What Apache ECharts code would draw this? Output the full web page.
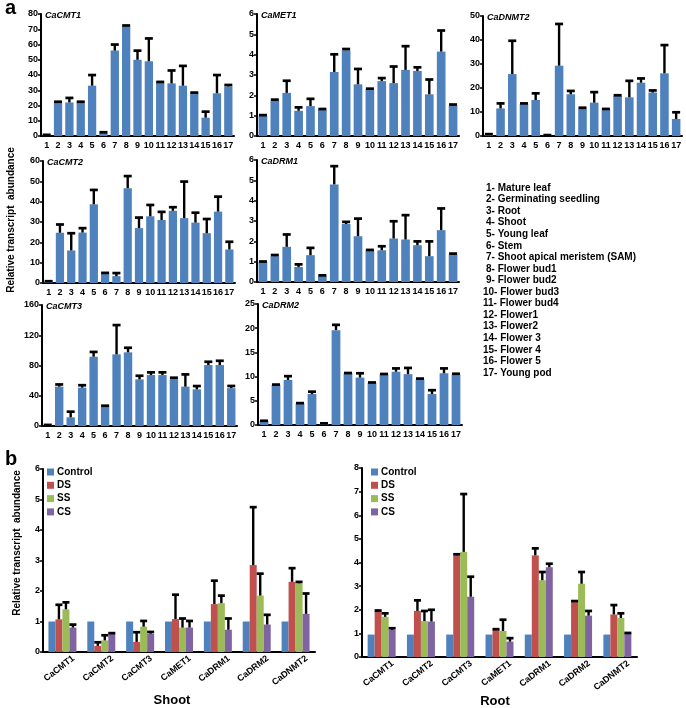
<!DOCTYPE html>
<html><head><meta charset="utf-8">
<script src="https://cdn.jsdelivr.net/npm/echarts@6/dist/echarts.min.js"></script>
<style>html,body{margin:0;padding:0;background:#fff}#main{width:686px;height:708px}</style>
</head><body><div id="main"></div>
<script>
// ---------- DATA ----------
const tissues = ['1','2','3','4','5','6','7','8','9','10','11','12','13','14','15','16','17'];
const tissueNames = ['1- Mature leaf','2- Germinating seedling','3- Root','4- Shoot','5- Young leaf','6- Stem',
  '7- Shoot apical meristem (SAM)','8- Flower bud1','9- Flower bud2','10- Flower bud3','11- Flower bud4',
  '12- Flower1','13- Flower2','14- Flower 3','15- Flower 4','16- Flower 5','17- Young pod'];

const cmt1    = [0.5,22,22,22,33,2,56,72,50,49,35,34.5,33,28,12,28,32.5];
const cmt1Err = [0.3,0.5,3,0.5,7,0.5,4,0.5,6,15,0.5,8.5,13,0.5,4,12,1];
const met1    = [1.0,1.73,2.12,1.24,1.47,1.3,3.15,4.22,2.54,2.3,2.7,2.6,3.25,3.2,2.05,4.15,1.5];
const met1Err = [0.03,0.06,0.6,0.17,0.36,0.03,0.87,0.06,0.76,0.03,0.15,0.82,1.17,0.18,0.73,1.04,0.05];
const dnmt2    = [0.5,11.5,25.8,13.3,15,0.2,29.3,17.4,11.4,13.9,11.1,16.7,16.1,22.2,18.1,26.1,7.1];
const dnmt2Err = [0.3,2.1,13.9,0.3,2.8,0.2,17.4,1.4,0.4,4.4,0.2,0.3,6.9,1.8,0.9,11.8,2.8];
const cmt2    = [0.7,24.7,16,24.8,38.7,4.7,3.4,46.6,27,32.8,31,35.5,31.9,29.7,24.5,35.1,16.5];
const cmt2Err = [0.2,4.1,8.5,2.2,7.1,0.3,1.5,6,5.2,5.6,4,1.8,18,4.9,7,7.4,3.8];
const drm1    = [0.99,1.27,1.73,0.74,1.32,0.31,4.8,2.85,2.25,1.56,1.56,2.14,2.09,1.81,1.27,2.55,1.35];
const drm1Err = [0.02,0.06,0.61,0.13,0.36,0.02,0.9,0.11,0.87,0.02,0.2,0.85,1.2,0.19,0.73,1.07,0.05];
const cmt3    = [1,52,11.5,50.7,91.6,26.4,94.7,97.4,61.7,67.4,67.4,62,52,48.5,80.6,80.6,50];
const cmt3Err = [0.5,3,7.5,3.3,6.4,0.5,38.8,6.1,4.8,3.6,3.6,1.9,16.3,4.4,4.4,5.7,3];
const drm2    = [0.83,8.26,9.3,4.48,6.4,0.2,19.6,10.7,9.8,8.75,10.5,11,10.5,9.4,6.4,10.7,10.4];
const drm2Err = [0.05,0.1,0.8,0.05,0.5,0.15,1.1,0.05,0.9,0.05,0.05,0.7,1.3,0.2,0.8,1.0,0.2];

const genes = ['CaCMT1','CaCMT2','CaCMT3','CaMET1','CaDRM1','CaDRM2','CaDNMT2'];
const treatments = ['Control','DS','SS','CS'];
const shootControl = [1,1,1,1,1,1,1];
const shootControlErr = [0,0,0,0,0,0,0];
const shootDS = [1.07,0.2,0.33,1.08,1.57,2.85,2.3];
const shootDSErr = [0.48,0.12,0.32,0.8,0.77,1.9,0.45];
const shootSS = [1.4,0.38,0.83,0.8,1.6,1.85,2.25];
const shootSSErr = [0.23,0.17,0.19,0.3,0.25,0.72,0.05];
const shootCS = [0.8,0.6,0.6,0.8,0.73,0.9,1.25];
const shootCSErr = [0.1,0.02,0.06,0.22,0.37,0.32,0.67];
const rootControl = [0.95,0.95,0.95,0.95,0.95,0.95,0.95];
const rootControlErr = [0,0,0,0,0,0,0];
const rootDS = [1.95,1.95,4.3,1.15,4.3,2.35,1.8];
const rootDSErr = [0.02,0.45,0.05,0.03,0.3,0.02,0.4];
const rootSS = [1.7,1.52,4.45,1.1,3.25,3.1,1.65];
const rootSSErr = [0.15,0.43,2.45,0.48,0.35,0.5,0.2];
const rootCS = [1.15,1.5,2.55,0.65,3.8,1.75,1.0];
const rootCSErr = [0.07,0.5,0.85,0.15,0.15,0.2,0.02];

// ---------- STYLE ----------
const FONT = 'Arial, "Liberation Sans", sans-serif';
const BLUE = '#4F81BD';
const tColors = ['#4F81BD','#C0504D','#9BBB59','#8064A2'];

const grids = [], xAxes = [], yAxes = [], series = [], graphics = [];

function errSeries(gi, vals, errs, offset, capW) {
  return {
    type: 'custom', xAxisIndex: gi, yAxisIndex: gi, z: 5, silent: true,
    data: vals.map((v, i) => [i, v, errs[i]]),
    encode: { x: 0, y: 1 },
    renderItem: function (params, api) {
      const i = api.value(0), v = api.value(1), e = api.value(2);
      if (!e) return null;
      const p0 = api.coord([i, v]);
      const p1 = api.coord([i, v + e]);
      const x = p0[0] + offset;
      return { type: 'group', children: [
        { type: 'line', shape: { x1: x, y1: p0[1], x2: x, y2: p1[1] }, style: { stroke: '#000', lineWidth: 2.4 } },
        { type: 'rect', shape: { x: x - capW / 2, y: p1[1] - 1.3, width: capW, height: 2.7 }, style: { fill: '#000' } }
      ]};
    }
  };
}

function axisY(gi, max, interval, labelSize) {
  return {
    type: 'value', gridIndex: gi, min: 0, max: max, interval: interval,
    axisLine: { show: true, lineStyle: { color: '#000', width: 2 } },
    axisTick: { show: true, length: 3, lineStyle: { color: '#000', width: 1.5 } },
    axisLabel: { color: '#000', fontFamily: FONT, fontWeight: 'bold', fontSize: labelSize, margin: 3 },
    splitLine: { show: false }
  };
}

function panelA(left, top, width, height, title, vals, errs, max, interval) {
  const gi = grids.length;
  grids.push({ left: left, top: top, width: width, height: height });
  xAxes.push({
    type: 'category', gridIndex: gi, data: tissues,
    axisLine: { lineStyle: { color: '#000', width: 2 } },
    axisTick: { show: false },
    axisLabel: { interval: 0, color: '#000', fontFamily: FONT, fontWeight: 'bold', fontSize: 9, margin: 5 }
  });
  yAxes.push(axisY(gi, max, interval, 9));
  series.push({ type: 'bar', xAxisIndex: gi, yAxisIndex: gi, data: vals, barCategoryGap: '27%',
    itemStyle: { color: BLUE }, silent: true });
  series.push(errSeries(gi, vals, errs, 0, 8));
  graphics.push({ type: 'text', left: left + 4, top: top - 3,
    style: { text: title, font: 'italic bold 9px ' + FONT, fill: '#000' } });
}

panelA(41, 14, 193, 122, 'CaCMT1', cmt1, cmt1Err, 80, 10);
panelA(257, 14, 202, 122, 'CaMET1', met1, met1Err, 6, 1);
panelA(483, 16, 199, 120, 'CaDNMT2', dnmt2, dnmt2Err, 50, 10);
panelA(43, 161, 192, 122, 'CaCMT2', cmt2, cmt2Err, 60, 10);
panelA(257, 160, 202, 122, 'CaDRM1', drm1, drm1Err, 6, 1);
panelA(42, 305, 195, 121, 'CaCMT3', cmt3, cmt3Err, 160, 40);
panelA(258, 304, 204, 121, 'CaDRM2', drm2, drm2Err, 25, 5);

function panelB(left, top, width, height, max, valsList, errsList) {
  const gi = grids.length;
  grids.push({ left: left, top: top, width: width, height: height });
  xAxes.push({
    type: 'category', gridIndex: gi, data: genes,
    axisLine: { lineStyle: { color: '#000', width: 2 } },
    axisTick: { show: false },
    axisLabel: { interval: 0, rotate: 38, color: '#000', fontFamily: FONT, fontWeight: 'bold', fontSize: 9,
      margin: 14, padding: [0, -14, 0, 0] }
  });
  yAxes.push(axisY(gi, max, 1, 9));
  const bw = 7;
  treatments.forEach((t, k) => {
    series.push({ type: 'bar', name: t, xAxisIndex: gi, yAxisIndex: gi, data: valsList[k],
      barWidth: bw, barGap: '0%', itemStyle: { color: tColors[k] }, silent: true });
  });
  treatments.forEach((t, k) => {
    series.push(errSeries(gi, valsList[k], errsList[k], (k - 1.5) * bw, 7));
  });
}

panelB(43, 469, 272, 183, 6,
  [shootControl, shootDS, shootSS, shootCS], [shootControlErr, shootDSErr, shootSSErr, shootCSErr]);
panelB(362, 468, 275, 189, 8,
  [rootControl, rootDS, rootSS, rootCS], [rootControlErr, rootDSErr, rootSSErr, rootCSErr]);

// texts
graphics.push({ type: 'text', left: 5, top: -2, style: { text: 'a', font: 'bold 20px ' + FONT, fill: '#000' } });
graphics.push({ type: 'text', left: 5, top: 449, style: { text: 'b', font: 'bold 20px ' + FONT, fill: '#000' } });
graphics.push({ type: 'text', x: 11, y: 220, rotation: Math.PI / 2,
  style: { text: 'Relative transcript  abundance', font: 'bold 10px ' + FONT, fill: '#000', align: 'center', verticalAlign: 'middle' } });
graphics.push({ type: 'text', x: 17, y: 543, rotation: Math.PI / 2,
  style: { text: 'Relative transcript  abundance', font: 'bold 10px ' + FONT, fill: '#000', align: 'center', verticalAlign: 'middle' } });
graphics.push({ type: 'text', x: 172, y: 700,
  style: { text: 'Shoot', font: 'bold 13px ' + FONT, fill: '#000', align: 'center', verticalAlign: 'middle' } });
graphics.push({ type: 'text', x: 495, y: 701,
  style: { text: 'Root', font: 'bold 13px ' + FONT, fill: '#000', align: 'center', verticalAlign: 'middle' } });
tissueNames.forEach((s, i) => {
  graphics.push({ type: 'text', x: i < 9 ? 486 : 483, y: 188 + i * 11.56,
    style: { text: s, font: 'bold 10px ' + FONT, fill: '#000', verticalAlign: 'middle' } });
});

const legendCommon = {
  data: treatments, orient: 'vertical', icon: 'rect', itemWidth: 7, itemHeight: 7, itemGap: 3.3,
  textStyle: { color: '#000', fontFamily: FONT, fontWeight: 'bold', fontSize: 10, padding: [0, 0, 0, -2] },
  selectedMode: false, padding: 0
};

const chart = echarts.init(document.getElementById('main'));
chart.setOption({
  animation: false,
  backgroundColor: '#fff',
  grid: grids, xAxis: xAxes, yAxis: yAxes, series: series,
  legend: [
    Object.assign({ left: 47, top: 467 }, legendCommon),
    Object.assign({ left: 371, top: 467 }, legendCommon)
  ],
  graphic: graphics
});
</script></body></html>
